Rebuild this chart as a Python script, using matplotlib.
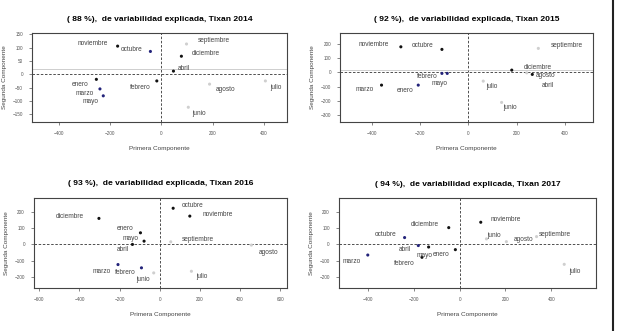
import matplotlib
matplotlib.use("Agg")
import matplotlib.pyplot as plt
from matplotlib.lines import Line2D

plt.rcParams['font.family'] = ['Liberation Sans', 'DejaVu Sans']

# ---- data (PC1, PC2 per month) ----
titulo_2014 = "( 88 %),  de variabilidad explicada, Tixan 2014"
meses_2014 = ["noviembre", "octubre", "septiembre", "diciembre", "abril", "febrero",
              "enero", "marzo", "mayo", "agosto", "julio", "junio"]
pc1_2014 = [-171, -43, 98, 78, 47, -18, -254, -240, -227, 188, 406, 105]
pc2_2014 = [106, 86, 114, 68, 12, -25, -19, -55, -81, -37, -25, -124]
grupo_2014 = ["k", "b", "f", "k", "k", "k", "k", "b", "b", "f", "f", "f"]

titulo_2015 = "( 92 %),  de variabilidad explicada, Tixan 2015"
meses_2015 = ["noviembre", "octubre", "marzo", "enero", "febrero", "mayo",
              "diciembre", "agosto", "abril", "septiembre", "julio", "junio"]
pc1_2015 = [-279, -109, -359, -207, -109, -87, 180, 242, 265, 290, 62, 138]
pc2_2015 = [179, 161, -89, -89, -7, -7, 16, -3, -14, 168, -61, -210]
grupo_2015 = ["k", "k", "k", "b", "b", "b", "k", "f", "k", "f", "f", "f"]

titulo_2016 = "( 93 %),  de variabilidad explicada, Tixan 2016"
meses_2016 = ["diciembre", "enero", "mayo", "abril", "marzo", "febrero",
              "junio", "octubre", "noviembre", "septiembre", "agosto", "julio"]
pc1_2016 = [-303, -96, -78, -136, -208, -91, -30, 67, 150, 55, 457, 158]
pc2_2016 = [159, 71, 20, 0, -123, -143, -174, 221, 173, 16, -4, -164]
grupo_2016 = ["k", "k", "k", "k", "b", "b", "f", "k", "k", "f", "f", "f"]

titulo_2017 = "( 94 %),  de variabilidad explicada, Tixan 2017"
meses_2017 = ["noviembre", "diciembre", "octubre", "abril", "mayo", "febrero",
              "enero", "marzo", "junio", "agosto", "septiembre", "julio"]
pc1_2017 = [92, -48, -241, -181, -136, -165, -19, -402, 117, 204, 336, 457]
pc2_2017 = [135, 102, 41, -8, -17, -80, -33, -66, 33, 16, 47, -123]
grupo_2017 = ["k", "k", "b", "b", "k", "k", "k", "b", "f", "f", "f", "f"]

# label offsets in pixels (dx, dy) relative to each point
off_2014 = [(-25, 3), (-19, 2), (27, 3), (24, 3), (10, 3), (-17, -7),
            (-16, -5), (-15, -5), (-13, -6), (16, -5), (11, -7), (11, -6)]
off_2015 = [(-27, 2), (-19, 4), (-17, -4), (-13, -5), (-15, -3), (-8, -10),
            (26, 3), (19, -3), (16, -11), (28, 3), (9, -5), (8, -5)]
off_2016 = [(-29, 2), (-15, 4), (-14, 3), (-10, -5), (-16, -7), (-16, -5),
            (-11, -7), (19, 3), (28, 2), (27, 2), (17, -7), (10, -5)]
off_2017 = [(25, 3), (-24, 3), (-19, 3), (-14, -4), (-4, -8), (-18, -6),
            (-14, -5), (-16, -6), (8, 3), (17, 2), (18, 2), (11, -7)]

colores = {"k": "#111111", "b": "#23237a", "f": "#cfcfcf"}

paneles = [
    (titulo_2014, meses_2014, pc1_2014, pc2_2014, grupo_2014, off_2014,
     [0.052, 0.631, 0.413, 0.269], (-505, 490), (-180, 155),
     [-400, -200, 0, 200, 400], [-150, -100, -50, 0, 50, 100, 150], True),
    (titulo_2015, meses_2015, pc1_2015, pc2_2015, grupo_2015, off_2015,
     [0.551, 0.631, 0.410, 0.269], (-531, 516), (-348, 275),
     [-400, -200, 0, 200, 400], [-300, -200, -100, 0, 100, 200], True),
    (titulo_2016, meses_2016, pc1_2016, pc2_2016, grupo_2016, off_2016,
     [0.055, 0.130, 0.410, 0.272], (-627, 634), (-266, 284),
     [-600, -400, -200, 0, 200, 400, 600], [-200, -100, 0, 100, 200], False),
    (titulo_2017, meses_2017, pc1_2017, pc2_2017, grupo_2017, off_2017,
     [0.549, 0.129, 0.417, 0.272], (-529, 596), (-270, 282),
     [-400, -200, 0, 200, 400], [-200, -100, 0, 100, 200], False),
]

fig = plt.figure(figsize=(6.17, 3.31), dpi=100)

for titulo, meses, x, y, grupo, off, rect, xl, yl, xt, yt, linea20 in paneles:
    ax = fig.add_axes(rect)
    ax.set_xlim(*xl)
    ax.set_ylim(*yl)
    ax.set_xticks(xt)
    ax.set_yticks(yt)
    ax.tick_params(labelsize=3.3, length=2.5, width=0.5, colors="#555555", pad=4)
    for s in ax.spines.values():
        s.set_color("#444444")
        s.set_linewidth(0.8)

    ax.axhline(0, color="#333333", ls=(0, (3, 2)), lw=0.6)
    ax.axvline(0, color="#333333", ls=(0, (3, 2)), lw=0.6)
    if linea20:
        ax.axhline(20, color="#bbbbbb", lw=0.5)

    ax.scatter(x, y, s=5, c=[colores[g] for g in grupo], linewidths=0, zorder=3)
    for m, xi, yi, (dx, dy) in zip(meses, x, y, off):
        ax.annotate(m, (xi, yi), xytext=(dx, dy), textcoords="offset pixels",
                    ha="center", va="center", fontsize=4.7, color="#444444")

    ax.set_title(titulo, fontsize=6.1, fontweight="bold", pad=9)
    ax.set_xlabel("Primera Componente", fontsize=4.6, color="#444444", labelpad=7)
    ax.set_ylabel("Segunda Componente", fontsize=4.6, color="#444444", labelpad=4)

fig.add_artist(Line2D([0.9935, 0.9935], [0, 1], color="#222222", lw=1.5))

fig.savefig("out.png", dpi=100)
